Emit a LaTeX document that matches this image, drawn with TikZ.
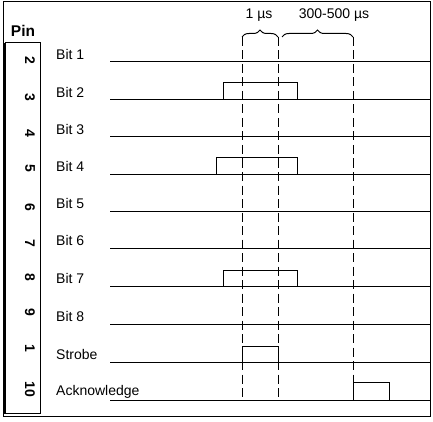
\documentclass[tikz,border=0pt]{standalone}
\usepackage{fontspec}
\setmainfont{Liberation Sans}
\usetikzlibrary{decorations.pathreplacing}
\begin{document}
\begin{tikzpicture}[x=1pt,y=-1pt,
  sig/.style={line width=1pt},
  pulse/.style={line width=1pt},
  tline/.style={line width=1pt,dash pattern=on 9pt off 4.5pt},
  lbl/.style={anchor=west,inner sep=0pt,font=\fontsize{14}{14}\selectfont},
  pinnum/.style={inner sep=0pt,rotate=-90,font=\fontsize{14}{14}\selectfont\bfseries},
  brc/.style={decorate,decoration={brace,amplitude=7pt},line width=1pt}]
\useasboundingbox (0,0) rectangle (433,422);
% frame
\draw[line width=1pt] (3,2) rectangle (430,416);
% pin box
\draw[line width=1pt] (5,43) rectangle (40,413);
\draw[line width=1.5pt] (4,43) -- (4,414);
\node[inner sep=0pt,font=\fontsize{15.5}{15.5}\selectfont\bfseries] (pin) at (23,31) {Pin};
% pin numbers
\foreach \n/\y [count=\i] in {2/60,3/97,4/133,5/168,6/207,7/243,8/277,9/312,1/348,10/389}
  \node[pinnum] (p\i) at (30,\y) {\n};
% signal lines and labels
\foreach \t/\y [count=\i] in {Bit 1/62,Bit 2/100,Bit 3/137,Bit 4/174.5,Bit 5/211,Bit 6/248,Bit 7/286.5,Bit 8/324,Strobe/362,Acknowledge/400}{
  \coordinate (s\i) at (110,\y);
  \coordinate (e\i) at (430,\y);
  \node[lbl] (l\i) at (56,\y-8) {\t};
  \draw[sig] (s\i) -- (e\i);
}
% dashed time markers
\coordinate (t1) at (242,37);
\coordinate (t2) at (278,37);
\coordinate (t3) at (353,37);
\coordinate (t1b) at (242,400);
\coordinate (t2b) at (278,400);
\coordinate (t3b) at (353,400);
\draw[tline] (t1) -- (t1b);
\draw[tline] (t2) -- (t2b);
\draw[tline] (t3) -- (t3b);
% braces
\coordinate (b2a) at (282,37);
\draw[brc] (t1) -- (t2);
\draw[brc] (b2a) -- (t3);
\node[inner sep=0pt,font=\fontsize{14}{14}\selectfont] (d1) at (259,15) {1 µs};
\node[inner sep=0pt,font=\fontsize{14}{14}\selectfont] (d2) at (334,15) {300-500 µs};
% pulses
\draw[pulse] (223,100) rectangle (297,83);
\draw[pulse] (216,174.5) rectangle (297,158);
\draw[pulse] (223,286.5) rectangle (297,270);
\draw[pulse] (242,362) rectangle (278,346);
\draw[pulse] (353,400) rectangle (389,382);
\end{tikzpicture}
\end{document}
